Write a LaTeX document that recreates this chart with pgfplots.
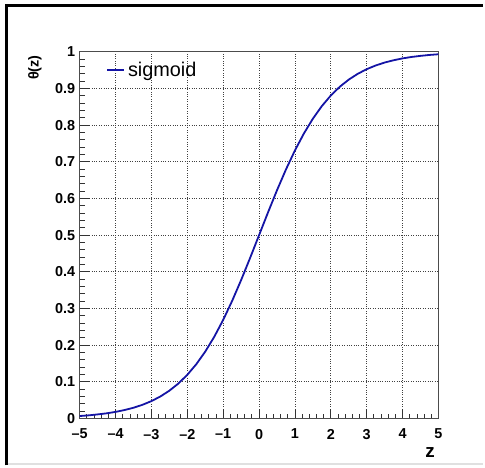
\documentclass[border=0pt]{standalone}
\usepackage{pgfplots}
\pgfplotsset{compat=1.18}
\usepackage{fontspec}
\setmainfont{Liberation Sans}
\definecolor{rootblue}{RGB}{20,20,165}

\begin{document}
\begin{tikzpicture}[x=1bp,y=1bp]
\path (0,0) rectangle (485,467);
% canvas frame
\draw[line width=3.5bp] (6.5,0) -- (6.5,461.5) -- (485,461.5);
\draw[black!12, line width=1.5bp] (8,1.5) -- (485,1.5);
\begin{axis}[
  at={(80bp,47bp)}, anchor=south west,
  width=360bp, height=368bp, scale only axis,
  xmin=-5, xmax=5, ymin=0, ymax=1,
  xtick={-5,-4,-3,-2,-1,0,1,2,3,4,5},
  xticklabels={–5,–4,–3,–2,–1,0,1,2,3,4,5},
  ytick={0,0.1,0.2,0.3,0.4,0.5,0.6,0.7,0.8,0.9,1},
  yticklabels={0,0.1,0.2,0.3,0.4,0.5,0.6,0.7,0.8,0.9,1},
  minor x tick num=4, minor y tick num=4,
  tick align=inside, xtick pos=bottom, ytick pos=left,
  major tick length=10bp, minor tick length=5bp,
  tick style={black!80, line width=0.8bp},
  grid=major,
  major grid style={dotted, black!75, line width=0.7bp},
  axis line style={black!70, line width=1bp},
  tick label style={font=\fontsize{14.5}{15}\selectfont\bfseries},
  xticklabel style={yshift=-7bp},
  yticklabel style={xshift=-1bp},
  ylabel={θ(z)},
  ylabel style={at={(rel axis cs:-0.125,1)}, anchor=east, rotate=0,
    font=\fontsize{14.5}{15}\selectfont\bfseries},
  xlabel={z},
  xlabel style={at={(rel axis cs:1,-0.106)}, anchor=base east,
    font=\fontsize{19}{19}\selectfont\bfseries},
  legend style={draw=none, fill=none, at={(rel axis cs:0.075,0.95)},
    anchor=west, inner sep=0pt, font=\fontsize{20}{20}\selectfont},
  legend cell align=left,
  legend image code/.code={\draw[#1, line width=1.3bp] (0bp,0bp) -- (17bp,0bp);},
  legend style={nodes={inner xsep=3bp}},
]
\addplot[rootblue, line width=1.8bp] coordinates {
  (-5.00,0.006693) (-4.75,0.008578) (-4.50,0.011109) (-4.25,0.014064)
  (-4.00,0.017986) (-3.75,0.023052) (-3.50,0.029312) (-3.25,0.037327)
  (-3.00,0.047426) (-2.75,0.060087) (-2.50,0.075858) (-2.25,0.095349)
  (-2.00,0.119203) (-1.75,0.148047) (-1.50,0.182426) (-1.25,0.222700)
  (-1.00,0.268941) (-0.75,0.320821) (-0.50,0.377541) (-0.25,0.437823)
  (0.00,0.500000) (0.25,0.562177) (0.50,0.622459) (0.75,0.679179)
  (1.00,0.731059) (1.25,0.777300) (1.50,0.817574) (1.75,0.851953)
  (2.00,0.880797) (2.25,0.904651) (2.50,0.924142) (2.75,0.939913)
  (3.00,0.952574) (3.25,0.962673) (3.50,0.970688) (3.75,0.976948)
  (4.00,0.982014) (4.25,0.985936) (4.50,0.988891) (4.75,0.991422)
  (5.00,0.993307)
};
\addlegendentry{sigmoid}
\end{axis}
\end{tikzpicture}
\end{document}
